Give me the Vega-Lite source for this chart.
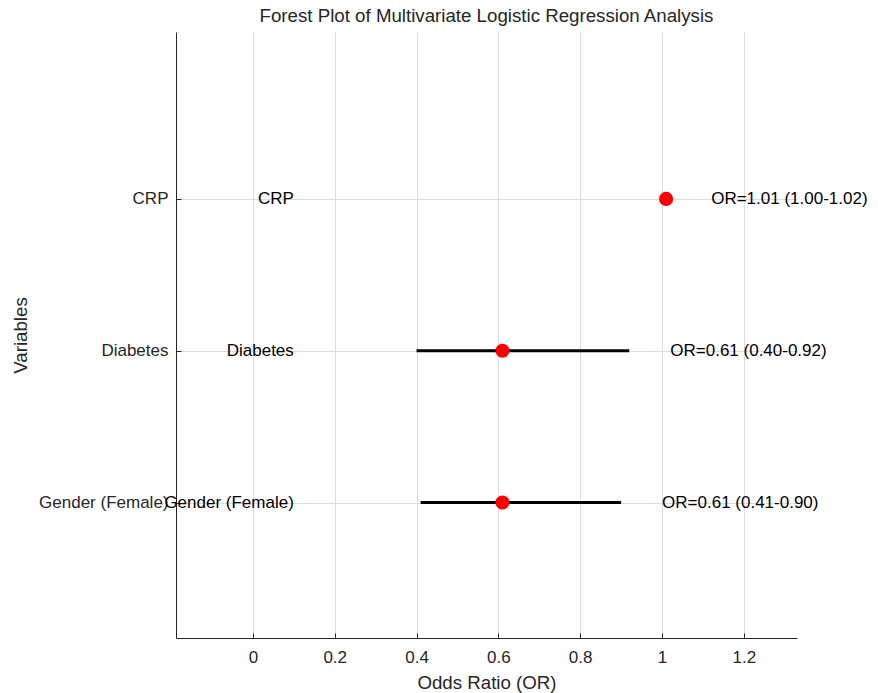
{
  "$schema": "https://vega.github.io/schema/vega-lite/v6.json",
  "width": 621,
  "height": 606,
  "autosize": {"type": "none"},
  "padding": {"left": 176, "top": 32, "right": 81, "bottom": 55},
  "background": "white",
  "config": {
    "view": {"stroke": null},
    "font": "Liberation Sans",
    "axis": {
      "labelFont": "Liberation Sans",
      "titleFont": "Liberation Sans",
      "labelFontSize": 17,
      "titleFontSize": 18.7,
      "titleFontWeight": "normal",
      "labelColor": "#262626",
      "titleColor": "#262626",
      "domainColor": "#262626",
      "tickColor": "#262626",
      "gridColor": "#dcdcdc",
      "gridWidth": 1,
      "tickSize": -5
    }
  },
  "title": {
    "text": "Forest Plot of Multivariate Logistic Regression Analysis",
    "font": "Liberation Sans",
    "fontSize": 18.7,
    "fontWeight": "normal",
    "color": "#262626",
    "anchor": "middle",
    "offset": 6
  },
  "data": {
    "values": [
      {"variable": "Gender (Female)", "or": 0.61, "lower": 0.41, "upper": 0.90, "label": "OR=0.61 (0.41-0.90)"},
      {"variable": "Diabetes", "or": 0.61, "lower": 0.40, "upper": 0.92, "label": "OR=0.61 (0.40-0.92)"},
      {"variable": "CRP", "or": 1.01, "lower": 1.00, "upper": 1.02, "label": "OR=1.01 (1.00-1.02)"}
    ]
  },
  "encoding": {
    "y": {
      "field": "variable",
      "type": "nominal",
      "sort": ["CRP", "Diabetes", "Gender (Female)"],
      "scale": {"type": "point", "padding": 0.996, "align": 0.552},
      "axis": {
        "title": "Variables",
        "grid": true,
        "labelPadding": 13,
        "titlePadding": 8
      }
    }
  },
  "layer": [
    {
      "mark": {"type": "rule", "color": "black", "strokeWidth": 3},
      "encoding": {
        "x": {
          "field": "lower",
          "type": "quantitative",
          "scale": {"domain": [-0.188, 1.33], "nice": false, "zero": false},
          "axis": {
            "title": "Odds Ratio (OR)",
            "values": [0, 0.2, 0.4, 0.6, 0.8, 1, 1.2],
            "format": "~g",
            "grid": true,
            "labelPadding": 16,
            "titlePadding": 8
          }
        },
        "x2": {"field": "upper"}
      }
    },
    {
      "mark": {"type": "point", "filled": true, "shape": "circle", "color": "#ff0000", "size": 200, "opacity": 1},
      "encoding": {
        "x": {"field": "or", "type": "quantitative"}
      }
    },
    {
      "mark": {"type": "text", "align": "right", "baseline": "middle", "fontSize": 17, "color": "black", "font": "Liberation Sans"},
      "encoding": {
        "x": {"datum": 0.1, "type": "quantitative"},
        "text": {"field": "variable"}
      }
    },
    {
      "mark": {"type": "text", "align": "left", "baseline": "middle", "fontSize": 17, "color": "black", "font": "Liberation Sans", "dx": 41},
      "encoding": {
        "x": {"field": "upper", "type": "quantitative"},
        "text": {"field": "label"}
      }
    }
  ]
}
